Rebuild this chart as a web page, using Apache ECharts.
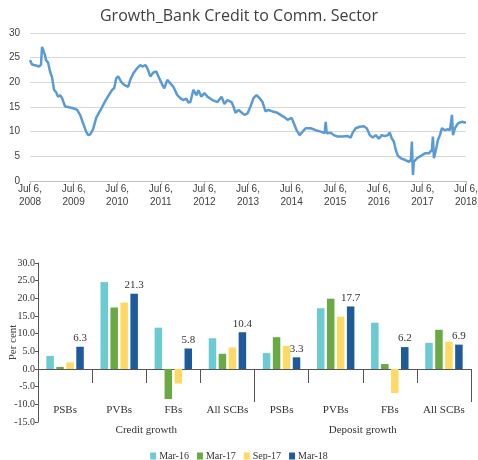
<!DOCTYPE html>
<html>
<head>
<meta charset="utf-8">
<script src="https://cdn.jsdelivr.net/npm/echarts@6/dist/echarts.min.js"></script>
<style>html,body{margin:0;padding:0;background:#fff}#c{width:478px;height:460px}</style>
</head>
<body>
<div id="c"></div>
<script>
// ---- Top chart: Growth of bank credit to commercial sector (years since Jul 6, 2008) ----
var lineTitle = 'Growth_Bank Credit to Comm. Sector';
var yearStart = 2008;
var creditYears = [0,0.046,0.138,0.207,0.253,0.276,0.299,0.345,0.368,0.414,0.460,0.506,0.552,0.598,0.644,0.690,0.736,0.805,0.874,0.966,1.034,1.080,1.149,1.218,1.287,1.333,1.379,1.402,1.448,1.517,1.586,1.632,1.678,1.724,1.793,1.885,1.931,1.977,2.023,2.092,2.161,2.253,2.299,2.368,2.460,2.529,2.575,2.644,2.690,2.759,2.828,2.897,2.966,3.034,3.080,3.149,3.218,3.287,3.379,3.448,3.517,3.586,3.632,3.678,3.747,3.816,3.862,3.931,4.000,4.069,4.184,4.299,4.391,4.460,4.529,4.621,4.667,4.713,4.782,4.851,4.920,4.989,5.057,5.126,5.195,5.264,5.333,5.402,5.471,5.563,5.655,5.747,5.839,5.908,6.000,6.046,6.115,6.184,6.253,6.322,6.437,6.552,6.667,6.759,6.782,6.805,6.897,6.966,7.057,7.172,7.287,7.356,7.402,7.471,7.563,7.655,7.724,7.793,7.862,7.931,8.000,8.069,8.138,8.207,8.253,8.299,8.345,8.391,8.437,8.506,8.598,8.690,8.736,8.759,8.782,8.805,8.874,8.966,9.057,9.149,9.218,9.241,9.264,9.310,9.356,9.402,9.448,9.517,9.586,9.632,9.678,9.701,9.747,9.816,9.908,10.0];
var creditGrowth = [24.5,23.6,23.4,23.2,23.6,27.2,27.0,25.5,24.5,24.0,22.2,21.0,18.5,18.0,17.1,17.4,16.8,15.1,15.0,14.8,14.6,14.4,13.4,11.7,10.0,9.3,9.4,9.8,10.5,12.8,13.9,14.6,15.4,16.2,17.2,18.5,18.8,20.8,21.2,20.1,19.5,19.1,20.5,21.8,22.9,23.5,23.2,23.5,22.9,21.2,22.0,22.2,20.8,19.5,18.8,20.5,19.8,19.1,17.4,16.8,16.4,16.7,15.9,16.0,18.5,17.4,18.4,17.1,17.8,17.1,16.4,16.0,17.1,15.6,16.4,16.0,15.1,13.8,14.4,13.9,13.4,13.7,15.1,16.8,17.4,16.8,16.0,14.1,14.4,14.1,13.9,13.4,12.9,12.4,12.8,11.8,10.3,9.3,10.0,10.7,10.7,10.3,10.0,9.7,12.0,9.7,9.8,9.3,9.0,9.0,9.1,8.8,9.8,10.7,11.0,11.1,10.7,9.3,8.8,9.3,8.6,9.3,9.1,9.3,9.8,8.6,8.0,6.3,5.1,4.6,4.3,3.9,4.3,8.0,1.2,3.9,4.6,5.1,5.6,5.6,6.3,9.0,4.6,6.3,8.3,9.3,10.7,10.3,10.5,10.3,13.4,9.3,10.7,11.7,12.0,11.8];

// ---- Bottom chart: credit and deposit growth by bank group ----
var bankGroups = ['PSBs','PVBs','FBs','All SCBs','PSBs','PVBs','FBs','All SCBs'];
var growthTypes = ['Credit growth','Deposit growth'];
var periods = ['Mar-16','Mar-17','Sep-17','Mar-18'];
var mar16 = [3.7, 24.6, 11.7, 8.7, 4.5, 17.2, 13.1, 7.4];
var mar17 = [0.6, 17.4, -8.5, 4.3, 9.0, 19.9, 1.4, 11.1];
var sep17 = [1.9, 18.8, -4.1, 6.1, 6.5, 14.8, -6.8, 7.7];
var mar18 = [6.3, 21.3, 5.8, 10.4, 3.3, 17.7, 6.2, 6.9];
var barTicks = {min: -15, max: 30, interval: 5};

var serif = "'Liberation Serif', 'DejaVu Serif', serif";
var sans = "'Liberation Sans', 'Open Sans', sans-serif";
var barColors = ['#6ccad2', '#6aa944', '#ffd966', '#1f5b9a'];
var barValues = [mar16, mar17, sep17, mar18];

var chart = echarts.init(document.getElementById('c'), null, {renderer: 'canvas'});
var barSeries = periods.map(function (p, i) {
  return {
    name: p, type: 'bar', xAxisIndex: 1, yAxisIndex: 1,
    data: barValues[i], barWidth: 7.5, barGap: '33%',
    itemStyle: {color: barColors[i]},
    label: i === 3 ? {show: true, position: 'top', distance: 3, fontFamily: serif, fontSize: 11, color: '#333',
      formatter: function (d) { return d.value.toFixed(1); }} : {show: false}
  };
});

chart.setOption({
  animation: false,
  backgroundColor: '#fff',
  title: {text: lineTitle, left: 'center', top: 3,
    textStyle: {fontFamily: "'Open Sans', sans-serif", fontSize: 16, fontWeight: 'normal', color: '#404040'}},
  legend: {data: periods, left: 'center', top: 446, itemWidth: 6, itemHeight: 7, itemGap: 8, icon: 'rect',
    textStyle: {fontFamily: serif, fontSize: 10, color: '#333', padding: [0, 0, 0, -2]}},
  grid: [
    {left: 30, right: 12, top: 33, bottom: 279, containLabel: false, outerBoundsMode: 'none'},
    {left: 38, right: 7, top: 263, bottom: 38, containLabel: false, outerBoundsMode: 'none'}
  ],
  xAxis: [
    {gridIndex: 0, type: 'value', min: 0, max: 10, interval: 1,
      axisLine: {lineStyle: {color: '#bfbfbf', width: 1}},
      axisTick: {show: true, length: 4, lineStyle: {color: '#bfbfbf'}},
      splitLine: {show: false},
      axisLabel: {margin: 2, fontFamily: sans, fontSize: 10, lineHeight: 13, color: '#404040',
        formatter: function (v) { return 'Jul 6,\n' + (yearStart + v); }}},
    {gridIndex: 1, type: 'category', data: bankGroups, position: 'bottom', offset: -53,
      axisLine: {onZero: false, lineStyle: {color: '#555', width: 1}},
      axisTick: {show: true, interval: 0, length: 14, lineStyle: {color: '#555'}},
      axisLabel: {interval: 0, margin: 36, fontFamily: serif, fontSize: 11, color: '#333'}},
    {gridIndex: 1, type: 'category', data: growthTypes, position: 'bottom', offset: -53,
      axisLine: {onZero: false, show: false},
      axisTick: {show: true, interval: 0, length: 33, lineStyle: {color: '#555'}},
      axisLabel: {interval: 0, margin: 56, fontFamily: serif, fontSize: 11, color: '#333'}}
  ],
  yAxis: [
    {gridIndex: 0, type: 'value', min: 0, max: 30, interval: 5,
      axisLine: {show: false}, axisTick: {show: false},
      splitLine: {lineStyle: {color: '#d9d9d9', width: 1}},
      axisLabel: {margin: 10, fontFamily: sans, fontSize: 10, color: '#404040'}},
    {gridIndex: 1, type: 'value', min: barTicks.min, max: barTicks.max, interval: barTicks.interval,
      name: 'Per cent', nameLocation: 'middle', nameGap: 19, nameRotate: 90, nameMoveOverlap: false,
      nameTextStyle: {fontFamily: serif, fontSize: 11, color: '#444'},
      axisLine: {show: true, onZero: false, lineStyle: {color: '#555', width: 1}},
      axisTick: {show: true, length: 3, lineStyle: {color: '#555'}},
      splitLine: {show: false},
      axisLabel: {margin: 3, fontFamily: serif, fontSize: 10, color: '#333',
        formatter: function (v) { return v.toFixed(1); }}}
  ],
  series: [
    {name: 'Credit', type: 'line', xAxisIndex: 0, yAxisIndex: 0,
      data: creditYears.map(function (t, i) { return [t, creditGrowth[i]]; }),
      showSymbol: false, symbol: 'none',
      lineStyle: {color: '#5b9bd5', width: 2.5}, itemStyle: {color: '#5b9bd5'}}
  ].concat(barSeries)
});
</script>
</body>
</html>
